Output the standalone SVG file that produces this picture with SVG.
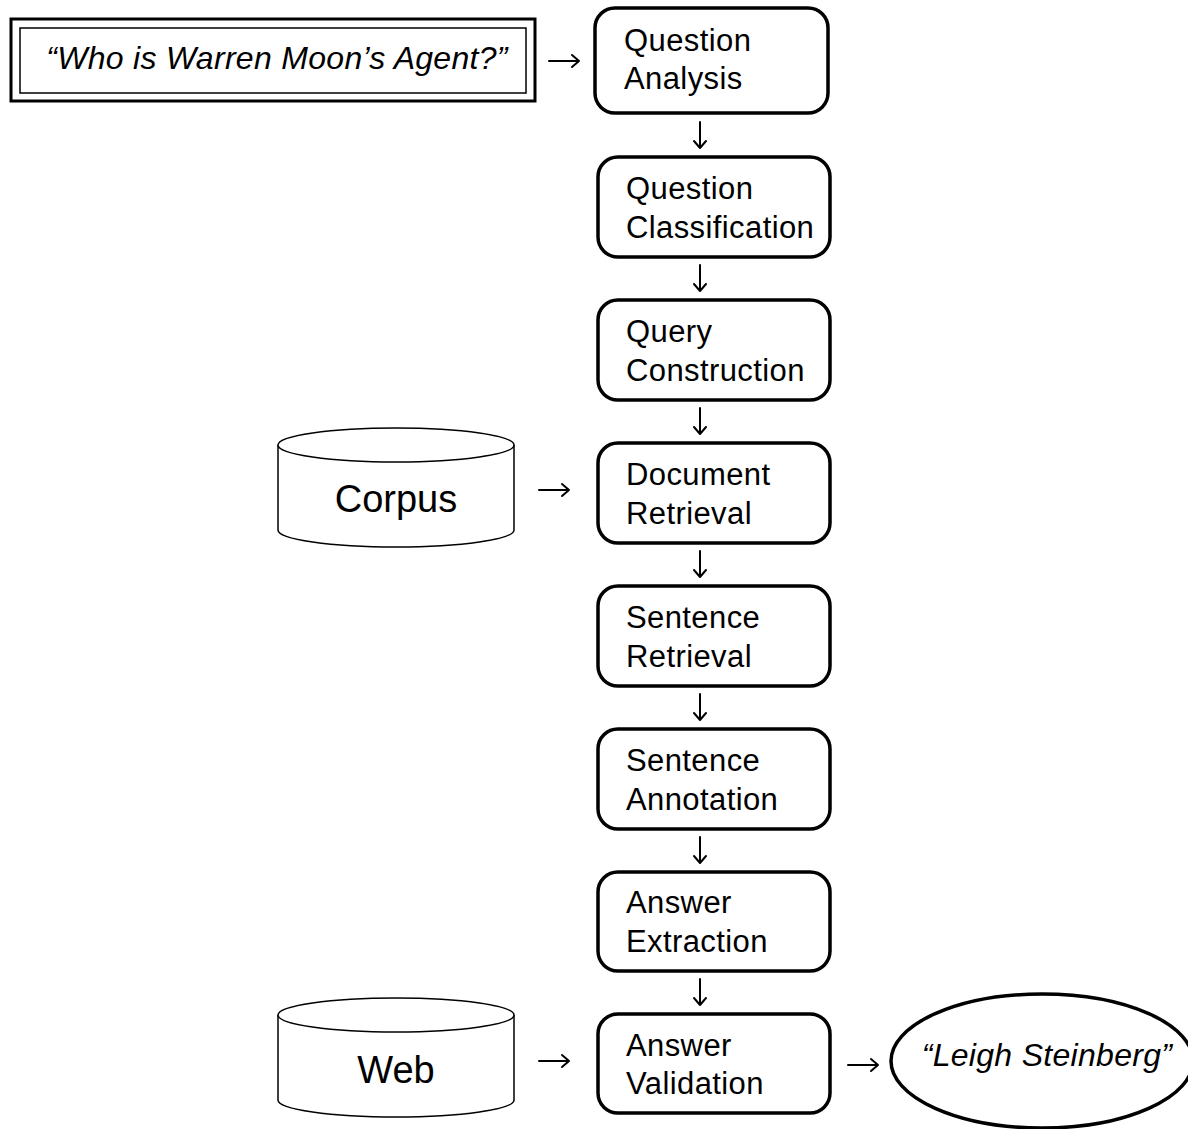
<svg xmlns="http://www.w3.org/2000/svg" width="1188" height="1129" viewBox="0 0 1188 1129">
<style>
.box{fill:#fff;stroke:#000;stroke-width:3.5}
.cyl{fill:#fff;stroke:#000;stroke-width:1.5}
.t{font-family:"Liberation Sans",Arial,sans-serif;font-size:31px;letter-spacing:0.4px;fill:#000}
.ti{font-family:"Liberation Sans",Arial,sans-serif;font-size:32px;font-style:italic;fill:#000}
.big{font-family:"Liberation Sans",Arial,sans-serif;font-size:38px;fill:#000;text-anchor:middle}
.arr{fill:none;stroke:#000;stroke-width:2;stroke-linecap:round;stroke-linejoin:round}
</style>
<rect width="1188" height="1129" fill="#fff"/>
<g id="question">
<rect x="11" y="19" width="524" height="82" fill="#fff" stroke="#000" stroke-width="3"/>
<rect x="20" y="28" width="506" height="65" fill="none" stroke="#000" stroke-width="1.5"/>
<text class="ti" x="277" y="69" text-anchor="middle" letter-spacing="0.3">“Who is Warren Moon’s Agent?”</text>
</g>
<g id="qa"><rect class="box" x="595" y="8" width="233" height="105" rx="20"/>
<text class="t" x="624" y="51">Question</text><text class="t" x="624" y="89">Analysis</text></g>
<g id="qc"><rect class="box" x="598" y="157" width="232" height="100" rx="20"/>
<text class="t" x="626" y="199">Question</text><text class="t" x="626" y="238">Classification</text></g>
<g id="qcon"><rect class="box" x="598" y="300" width="232" height="100" rx="20"/>
<text class="t" x="626" y="342">Query</text><text class="t" x="626" y="381">Construction</text></g>
<g id="dr"><rect class="box" x="598" y="443" width="232" height="100" rx="20"/>
<text class="t" x="626" y="485">Document</text><text class="t" x="626" y="524">Retrieval</text></g>
<g id="sr"><rect class="box" x="598" y="586" width="232" height="100" rx="20"/>
<text class="t" x="626" y="628">Sentence</text><text class="t" x="626" y="667">Retrieval</text></g>
<g id="sa"><rect class="box" x="598" y="729" width="232" height="100" rx="20"/>
<text class="t" x="626" y="771">Sentence</text><text class="t" x="626" y="810">Annotation</text></g>
<g id="ae"><rect class="box" x="598" y="872" width="232" height="99" rx="20"/>
<text class="t" x="626" y="913">Answer</text><text class="t" x="626" y="952">Extraction</text></g>
<g id="av"><rect class="box" x="598" y="1014" width="232" height="99" rx="20"/>
<text class="t" x="626" y="1056">Answer</text><text class="t" x="626" y="1094">Validation</text></g>
<g id="corpus">
<path class="cyl" d="M278,445 L278,530 A118,17 0 0 0 514,530 L514,445"/>
<ellipse class="cyl" cx="396" cy="445" rx="118" ry="17"/>
<text class="big" x="396" y="512">Corpus</text>
</g>
<g id="web">
<path class="cyl" d="M278,1015 L278,1100 A118,17 0 0 0 514,1100 L514,1015"/>
<ellipse class="cyl" cx="396" cy="1015" rx="118" ry="17"/>
<text class="big" x="396" y="1083">Web</text>
</g>
<g id="answer">
<ellipse cx="1042" cy="1061" rx="151" ry="67" fill="#fff" stroke="#000" stroke-width="3.5"/>
<text class="ti" x="1047" y="1066" text-anchor="middle" letter-spacing="0.3">“Leigh Steinberg”</text>
</g>
<g id="connectors">
<path class="arr" d="M549,61 H579 M572,55 L579,61 L572,67"/>
<path class="arr" d="M539,490 H569 M562,484 L569,490 L562,496"/>
<path class="arr" d="M539,1061 H569 M562,1055 L569,1061 L562,1067"/>
<path class="arr" d="M848,1065 H878 M871,1059 L878,1065 L871,1071"/>
<path class="arr" d="M700,122 V148 M694,141 L700,148 L706,141"/>
<path class="arr" d="M700,265 V291 M694,284 L700,291 L706,284"/>
<path class="arr" d="M700,408 V434 M694,427 L700,434 L706,427"/>
<path class="arr" d="M700,551 V577 M694,570 L700,577 L706,570"/>
<path class="arr" d="M700,694 V720 M694,713 L700,720 L706,713"/>
<path class="arr" d="M700,837 V863 M694,856 L700,863 L706,856"/>
<path class="arr" d="M700,979 V1005 M694,998 L700,1005 L706,998"/>
</g>
</svg>
